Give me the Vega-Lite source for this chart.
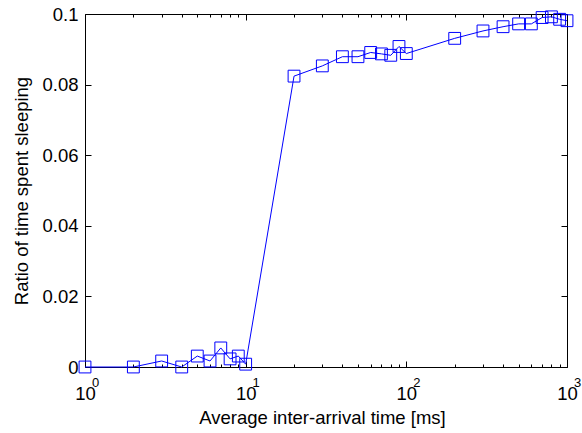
{
  "$schema": "https://vega.github.io/schema/vega-lite/v6.json",
  "width": 482,
  "height": 353,
  "autosize": {"type": "none"},
  "padding": {"left": 85, "top": 14, "right": 15, "bottom": 66},
  "background": "#ffffff",
  "config": {
    "view": {"stroke": "#000000", "strokeWidth": 1, "fill": "#ffffff"},
    "axis": {
      "domain": false,
      "grid": false,
      "labelFont": "Liberation Sans",
      "titleFont": "Liberation Sans",
      "labelFontSize": 18.5,
      "titleFontSize": 18.5,
      "labelColor": "#000000",
      "titleColor": "#000000",
      "tickColor": "#000000",
      "titleFontWeight": "normal",
      "labelFlush": false,
      "labelOverlap": false
    }
  },
  "datasets": {
    "sleep": [
      {"interarrival": 1, "ratio": 0},
      {"interarrival": 2, "ratio": 0},
      {"interarrival": 3, "ratio": 0.0017},
      {"interarrival": 4, "ratio": 0},
      {"interarrival": 5, "ratio": 0.0031},
      {"interarrival": 6, "ratio": 0.0017},
      {"interarrival": 7, "ratio": 0.0054},
      {"interarrival": 8, "ratio": 0.0023},
      {"interarrival": 9, "ratio": 0.0031},
      {"interarrival": 10, "ratio": 0.0008},
      {"interarrival": 20, "ratio": 0.0824},
      {"interarrival": 30, "ratio": 0.0853},
      {"interarrival": 40, "ratio": 0.0879},
      {"interarrival": 50, "ratio": 0.0879},
      {"interarrival": 60, "ratio": 0.0891},
      {"interarrival": 70, "ratio": 0.0887},
      {"interarrival": 80, "ratio": 0.0883},
      {"interarrival": 90, "ratio": 0.0908},
      {"interarrival": 100, "ratio": 0.0888},
      {"interarrival": 200, "ratio": 0.0931},
      {"interarrival": 300, "ratio": 0.0952},
      {"interarrival": 400, "ratio": 0.0964},
      {"interarrival": 500, "ratio": 0.0972},
      {"interarrival": 600, "ratio": 0.0972},
      {"interarrival": 700, "ratio": 0.099},
      {"interarrival": 800, "ratio": 0.0992},
      {"interarrival": 900, "ratio": 0.0985},
      {"interarrival": 1000, "ratio": 0.0981}
    ],
    "decades": [
      {"interarrival": 1, "exponent": "0"},
      {"interarrival": 10, "exponent": "1"},
      {"interarrival": 100, "exponent": "2"},
      {"interarrival": 1000, "exponent": "3"}
    ]
  },
  "resolve": {"axis": {"x": "independent", "y": "independent"}},
  "layer": [
    {
      "data": {"name": "sleep"},
      "mark": {"type": "line", "color": "#0000ff", "strokeWidth": 1},
      "encoding": {
        "x": {
          "field": "interarrival",
          "type": "quantitative",
          "scale": {"type": "log", "domain": [1, 1000], "nice": false},
          "axis": {
            "orient": "bottom",
            "values": [1, 2, 3, 4, 5, 6, 7, 8, 9, 10, 20, 30, 40, 50, 60, 70, 80, 90, 100, 200, 300, 400, 500, 600, 700, 800, 900, 1000],
            "tickSize": {"condition": {"test": "indexof([1, 10, 100, 1000], datum.value) >= 0", "value": -6}, "value": -3},
            "labelExpr": "indexof([1, 10, 100, 1000], datum.value) >= 0 ? '10' : ''",
            "labelBaseline": "alphabetic",
            "labelPadding": 38,
            "labelDx": -3.5,
            "title": "Average inter-arrival time [ms]",
            "titleBaseline": "alphabetic",
            "titleX": 237,
            "titleY": 56
          }
        },
        "y": {
          "field": "ratio",
          "type": "quantitative",
          "scale": {"domain": [0, 0.1], "nice": false, "zero": false},
          "axis": {
            "orient": "left",
            "values": [0, 0.02, 0.04, 0.06, 0.08, 0.1],
            "format": "~g",
            "tickSize": -6,
            "labelPadding": 13,
            "title": "Ratio of time spent sleeping",
            "titleBaseline": "alphabetic",
            "titleX": -58,
            "titleY": 176.5
          }
        }
      }
    },
    {
      "data": {"name": "sleep"},
      "mark": {"type": "point", "shape": "square", "size": 140, "filled": false, "color": "#0000ff", "strokeWidth": 1, "opacity": 1},
      "encoding": {
        "x": {
          "field": "interarrival",
          "type": "quantitative",
          "axis": {
            "orient": "top",
            "values": [1, 2, 3, 4, 5, 6, 7, 8, 9, 10, 20, 30, 40, 50, 60, 70, 80, 90, 100, 200, 300, 400, 500, 600, 700, 800, 900, 1000],
            "tickSize": {"condition": {"test": "indexof([1, 10, 100, 1000], datum.value) >= 0", "value": -6}, "value": -3},
            "labels": false,
            "title": null
          }
        },
        "y": {
          "field": "ratio",
          "type": "quantitative",
          "axis": {
            "orient": "right",
            "values": [0, 0.02, 0.04, 0.06, 0.08, 0.1],
            "tickSize": -6,
            "labels": false,
            "title": null
          }
        }
      }
    },
    {
      "data": {"name": "decades"},
      "mark": {"type": "text", "font": "Liberation Sans", "fontSize": 13, "color": "#000000", "baseline": "alphabetic", "align": "center", "dx": 10.5, "dy": 19.5},
      "encoding": {
        "x": {"field": "interarrival", "type": "quantitative", "axis": null},
        "y": {"datum": 0, "type": "quantitative", "axis": null},
        "text": {"field": "exponent"}
      }
    }
  ]
}
